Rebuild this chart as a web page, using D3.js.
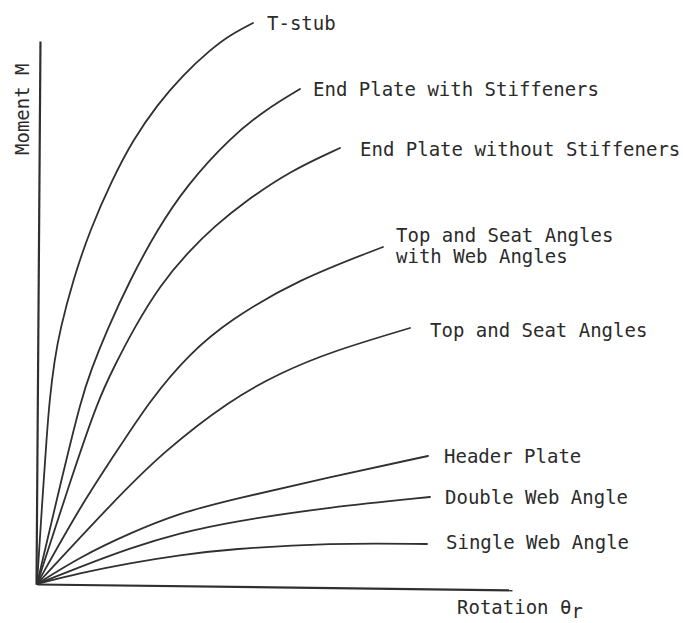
<!DOCTYPE html>
<html>
<head>
<meta charset="utf-8">
<script src="https://cdn.jsdelivr.net/npm/d3@7"></script>
<style>
  html, body { margin: 0; padding: 0; background: #fff; }
  svg { display: block; }
  text { font-family: "DejaVu Sans Mono", "Liberation Mono", monospace; fill: #2b2b2b; }
</style>
</head>
<body>
<svg id="chart" width="683" height="623"></svg>
<script>
// Moment–rotation curves for typical beam-to-column connections
// (rotation θr and moment M in relative units, no scale given).
const connectionNames = [
  "T-stub",
  "End Plate with Stiffeners",
  "End Plate without Stiffeners",
  "Top and Seat Angles|with Web Angles",
  "Top and Seat Angles",
  "Header Plate",
  "Double Web Angle",
  "Single Web Angle"
];

// [rotation, moment] pairs along each curve
const tStub           = [[0,0],[1.2,18.8],[1.9,28.8],[2.5,36.8],[3.5,44.8],[4.6,50.8],[7.2,60.8],[10.6,70.8],[15.0,80.8],[19.2,88.8],[24.0,95.8],[29.2,101.8],[34.6,106.8],[38.6,109.8],[43.2,112.2]];
const endPlateStiff   = [[0,0],[5.2,22.2],[8.8,36.8],[10.8,42.8],[14.0,50.8],[18.6,60.8],[24.0,70.8],[30.0,79.8],[38.6,89.2],[45.6,94.8],[52.6,99.0]];
const endPlateNoStiff = [[0,0],[7.2,22.2],[12.2,36.8],[15.6,43.8],[19.2,50.8],[24.6,59.8],[30.6,66.8],[35.6,71.6],[41.2,76.2],[50.6,82.6],[60.6,87.2]];
const topSeatWeb      = [[0,0],[8.6,15.4],[15.2,25.4],[22.6,36.8],[30.6,46.2],[38.6,52.8],[52.0,60.8],[69.2,67.4]];
const topSeat         = [[0,0],[15.2,16.4],[25.2,26.4],[38.6,36.8],[48.6,42.2],[58.6,46.4],[74.6,51.2]];
const headerPlate     = [[0,0],[8.6,5.4],[18.6,10.2],[28.6,14.2],[38.6,16.8],[58.6,21.4],[78.2,25.6]];
const doubleWebAngle  = [[0,0],[8.6,3.4],[18.6,7.2],[28.6,10.2],[38.6,12.4],[58.6,15.4],[78.6,17.4]];
const singleWebAngle  = [[0,0],[8.6,2.2],[18.6,4.2],[28.6,5.8],[38.6,7.0],[58.6,8.2],[78.0,8.0]];

const seriesValues = [tStub, endPlateStiff, endPlateNoStiff, topSeatWeb, topSeat, headerPlate, doubleWebAngle, singleWebAngle];

const axisTitles = { x: "Rotation θ", xSub: "r", y: "Moment M" };

// ---- layout ----
const svg = d3.select("#chart");
const x = d3.scaleLinear().domain([0, 95]).range([37, 512]);
const y = d3.scaleLinear().domain([0, 108.6]).range([584, 41]);

const ink = "#303030";

// label anchor (left, baseline) for each curve
const labelAnchors = [
  [267, 30], [313, 96], [360, 156], [396, 242], [430, 337], [444, 463], [445, 504], [446, 549]
];

// axes: bare lines, no ticks
const xAxis = svg.append("g")
  .attr("transform", "translate(0,584) rotate(0.7 37 0)")
  .call(d3.axisBottom(x).ticks(0).tickSizeOuter(0));
const yAxis = svg.append("g")
  .attr("transform", "translate(36,0) rotate(0.42 0 584)")
  .call(d3.axisLeft(y).ticks(0).tickSizeOuter(0));
[xAxis, yAxis].forEach(g => g.select(".domain").attr("stroke", ink).attr("stroke-width", 2.2));

// curves
const line = d3.line()
  .x(d => x(d[0]))
  .y(d => y(d[1]))
  .curve(d3.curveBasis);

svg.append("g")
  .selectAll("path")
  .data(seriesValues)
  .join("path")
  .attr("d", line)
  .attr("fill", "none")
  .attr("stroke", ink)
  .attr("stroke-width", 1.8)
  .attr("stroke-linecap", "round");

// curve labels
const labels = svg.append("g").attr("font-size", 19);
connectionNames.forEach((name, i) => {
  const [lx, ly] = labelAnchors[i];
  const t = labels.append("text").attr("x", lx).attr("y", ly);
  name.split("|").forEach((part, k) => {
    t.append("tspan").attr("x", lx).attr("dy", k === 0 ? 0 : 21).text(part);
  });
});

// axis titles
const xt = svg.append("text")
  .attr("x", 457).attr("y", 614)
  .attr("font-size", 19)
  .text(axisTitles.x);
xt.append("tspan").attr("dy", 4).text(axisTitles.xSub);

svg.append("text")
  .attr("transform", "translate(29,155) rotate(-90)")
  .attr("font-size", 19)
  .text(axisTitles.y);
</script>
</body>
</html>
